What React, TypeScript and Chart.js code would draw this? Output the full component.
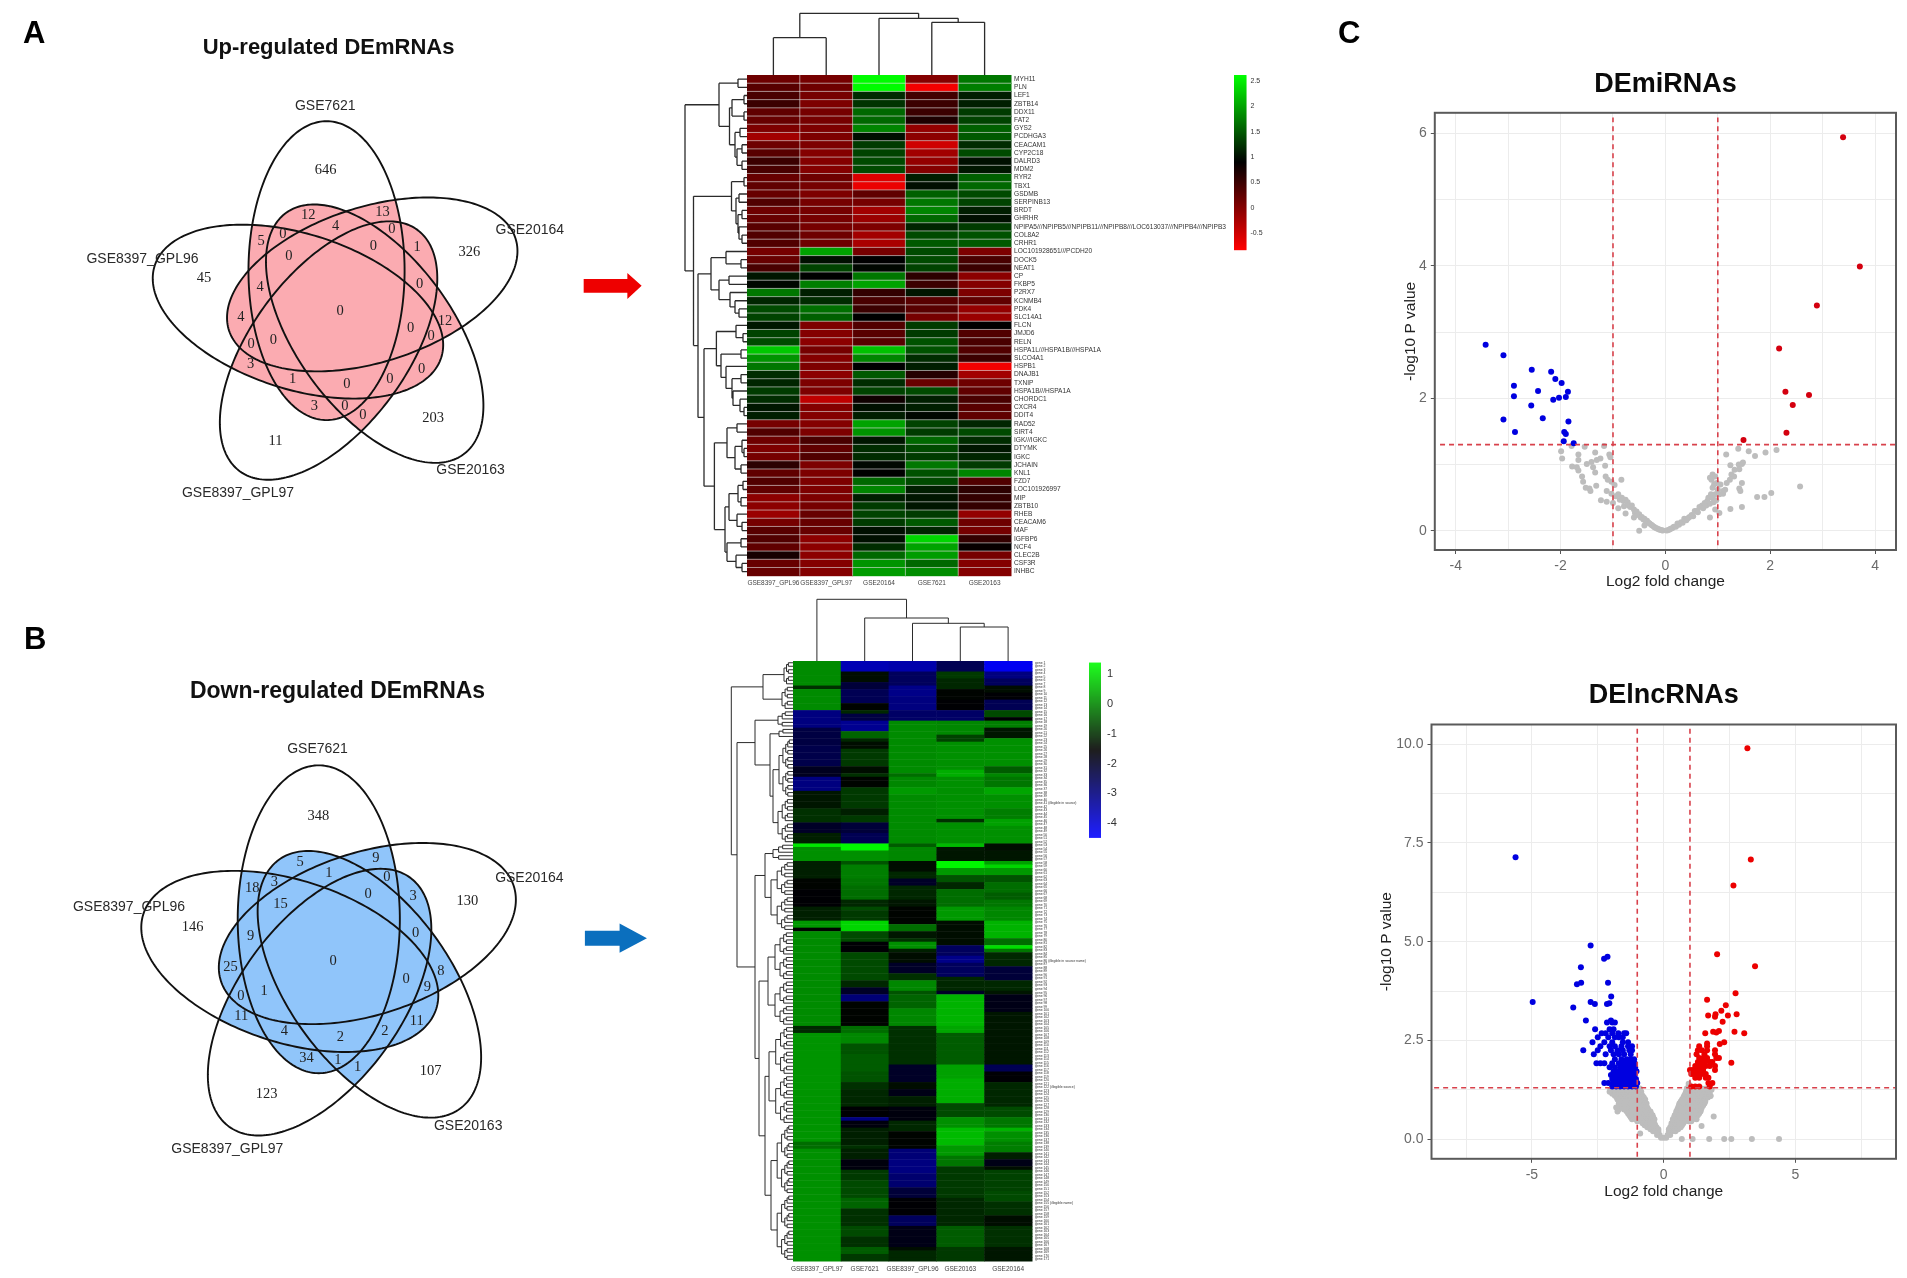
import React, { useEffect, useRef } from "react";
import { Chart, registerables } from "chart.js";

Chart.register(...registerables);
Chart.defaults.font.family = "'Liberation Sans', Arial, sans-serif";
Chart.defaults.animation = false as any;

/* ---------- Venn data (coordinates are on each Venn chart's own hidden axes) ---------- */
const vennSets = ["GSE7621", "GSE20164", "GSE20163", "GSE8397_GPL97", "GSE8397_GPL96"];
const vennAngles = [0, 72, 144, 216, 288];
const upCx = [800, 912, 918, 805, 730];
const upCy = [786, 826, 969, 1018, 905];
const upSetLabelPos = [[797, 308], [1298, 668], [1153, 1366], [583, 1433], [349, 752]];
const upCounts: [number, number, string][] = [
  [798, 495, "646"], [1150, 733, "326"], [500, 808, "45"], [1061, 1213, "203"], [675, 1280, "11"],
  [755, 625, "12"], [937, 615, "13"], [822, 657, "4"], [960, 667, "0"], [693, 680, "0"], [640, 700, "5"],
  [708, 745, "0"], [915, 715, "0"], [1022, 718, "1"], [637, 833, "4"], [1028, 825, "0"], [590, 920, "4"],
  [833, 903, "0"], [1090, 932, "12"], [1006, 953, "0"], [670, 987, "0"], [1056, 977, "0"], [615, 1000, "0"],
  [614, 1058, "3"], [1033, 1072, "0"], [717, 1100, "1"], [850, 1115, "0"], [955, 1100, "0"], [770, 1180, "3"],
  [845, 1180, "0"], [889, 1205, "0"],
];
const downCx = [781, 900, 905, 783, 710];
const downCy = [838, 878, 1020, 1070, 956];
const downSetLabelPos = [[778, 362], [1297, 722], [1147, 1417], [557, 1482], [316, 805]];
const downCounts: [number, number, string][] = [
  [780, 550, "348"], [1145, 787, "130"], [472, 860, "146"], [1055, 1263, "107"], [653, 1328, "123"],
  [735, 678, "5"], [921, 668, "9"], [806, 710, "1"], [948, 720, "0"], [672, 733, "3"], [618, 752, "18"],
  [687, 797, "15"], [902, 767, "0"], [1012, 772, "3"], [614, 884, "9"], [1018, 878, "0"], [565, 972, "25"],
  [816, 955, "0"], [1080, 982, "8"], [995, 1005, "0"], [647, 1040, "1"], [1047, 1028, "9"], [590, 1052, "0"],
  [591, 1110, "11"], [1021, 1123, "11"], [697, 1152, "4"], [834, 1167, "2"], [943, 1152, "2"], [751, 1228, "34"],
  [828, 1232, "1"], [876, 1252, "1"],
];
const upArrow = [[1430, 810], [1537, 810], [1537, 793], [1572, 830], [1537, 868], [1537, 850], [1430, 850]];
const downArrow = [[1433, 870], [1518, 870], [1518, 850], [1585, 891], [1518, 932], [1518, 912], [1433, 912]];

/* ---------- Up-regulated heatmap ---------- */
const upColumns = ["GSE8397_GPL96", "GSE8397_GPL97", "GSE20164", "GSE7621", "GSE20163"];
const upGenes = [
  "MYH11", "PLN", "LEF1", "ZBTB14", "DDX11", "FAT2", "GYS2", "PCDHGA3", "CEACAM1", "CYP2C18", "DALRD3", "MDM2",
  "RYR2", "TBX1", "GSDMB", "SERPINB13", "BRDT", "GHRHR", "NPIPA5///NPIPB5///NPIPB11///NPIPB8///LOC613037///NPIPB4///NPIPB3",
  "COL8A2", "CRHR1", "LOC101928651///PCDH20", "DOCK5", "NEAT1", "CP", "FKBP5", "P2RX7", "KCNMB4", "PDK4", "SLC14A1",
  "FLCN", "JMJD6", "RELN", "HSPA1L///HSPA1B///HSPA1A", "SLCO4A1", "HSPB1", "DNAJB1", "TXNIP", "HSPA1B///HSPA1A",
  "CHORDC1", "CXCR4", "DDIT4", "RAD52", "SIRT4", "IGK///IGKC", "DTYMK", "IGKC", "JCHAIN", "KNL1", "FZD7",
  "LOC101926997", "MIP", "ZBTB10", "RHEB", "CEACAM6", "MAF", "IGFBP6", "NCF4", "CLEC2B", "CSF3R", "INHBC",
];
const upMatrix = [
  [.15,.1,2.6,0,1.7],[.3,.15,2.6,-.75,1.75],[.4,.1,1.2,.45,1.1],[.5,.05,1.25,.5,1.1],[.25,.1,1.6,.5,1.3],
  [.2,.1,1.6,.7,1.35],[.05,.05,1.8,-.1,1.55],[-.2,.05,1,-.05,1.5],[.15,.05,1.3,-.5,1.2],[.3,0,1.35,-.2,1.4],
  [.5,0,1.4,-.1,1],[.4,0,1.4,0,1.05],[.2,.15,-.6,1.1,1.55],[.25,.1,-.7,1,1.6],[.2,.05,.25,1.55,1.4],
  [.35,.1,.1,1.7,1.35],[.15,.1,-.2,1.8,1.1],[.2,.1,-.15,1.6,1],[.3,.1,.05,1.15,1.3],[.35,.15,-.2,1.4,1.45],
  [.35,.15,-.25,1.5,1.5],[.1,2,.1,1.4,.05],[.2,1,.9,1.4,.4],[.4,1.35,.95,1.35,.5],[1.05,.9,1.7,.6,-.05],
  [.95,1.75,2,.5,0],[1.7,1.1,.55,1.05,.05],[1.15,1.2,.4,.3,.25],[1.4,1.65,.5,.3,-.1],[1.35,1.55,.9,.1,-.15],
  [1.05,.05,.35,1.3,.9],[1.35,0,.3,1.3,.35],[1.4,-.05,.3,1.45,.4],[2.25,.1,2.2,1.45,.35],[1.9,0,1.8,1.2,.5],
  [1.7,.05,.9,1.1,-.75],[1.2,-.05,1.5,.65,-.2],[1.15,.05,1.2,.2,.15],[1.3,.05,1.35,1.4,.25],[1.2,-.4,.8,1.1,.4],
  [1.05,0,1,1.1,.3],[1.1,0,1.1,.95,.25],[.1,0,2,1.35,1.15],[.35,.05,1.9,1.3,1.4],[.15,.4,1.05,1.6,1.2],
  [.05,.25,1.2,1.4,1.05],[.1,.35,1.2,1.3,1.15],[.6,.05,.95,1.7,1.3],[.25,.05,.9,1.45,1.8],[.35,.05,1.6,1.4,.35],
  [.25,.05,1.8,1.1,.6],[-.05,.05,1.1,1.05,.55],[-.05,.1,1.3,1.05,.55],[-.15,.2,1.35,1.3,-.1],[.1,.2,1.3,1.5,.15],
  [.3,.2,1,1.15,.1],[.35,-.05,1,2.35,.55],[.25,-.05,1.2,2,.85],[.75,-.05,1.6,1.95,.1],[.2,0,1.9,1.6,0],[.2,0,1.95,1.85,0],
];
const upColTree = [61.7, [37.3, 0, 1], [56.7, 2, [52.7, 3, 4]]];
const upRowTree = [62,
  [28, [9, 0, 1], [17.5, [15, [3, 2, 3], [3, 4, 5]], [12, [7, 6, 7], [10, [5, 8, 9], [5, 10, 11]]]]],
  [53.5,
    [15.5, [3, 12, 13], [11, [8, 14, 15], [9, [5, 16, 17], [8, 18, [5, 19, 20]]]]],
    [49,
      [36, [21, 21, [6, 22, 23]], [28, [18, 24, 25], [17, 26, [12, 27, [8, 28, 29]]]]],
      [43,
        [30.6, [11, 30, [4, 31, 32]], [26, [6, 33, 34], [21, 35, [15, [6, 36, 37], [14, 38, [7, 39, [3, 40, 41]]]]]]],
        [32.6,
          [20, [10, 42, 43], [12, [5, 44, [3, 45, 46]], [6, 47, 48]]],
          [22, [18, [9, [4, 49, 50], [6, 51, 52]], [10, 53, [5, 54, 55]]], [20, [6, 56, 57], [11, 58, [5, 59, 60]]]],
        ],
      ],
    ],
  ],
];
const upBarTicks = [-0.5, 0, 0.5, 1, 1.5, 2, 2.5];
const upScaleRange = [-0.835, 2.62];
const upBlack = 0.9;

/* ---------- Down-regulated heatmap: each column is a list of [last row + 1, value] bands ---------- */
const downColumns = ["GSE8397_GPL97", "GSE7621", "GSE8397_GPL96", "GSE20163", "GSE20164"];
const downRowCount = 171;
const downLongLabels: Record<number, string> = {
  40: " (illegible in source)", 85: " (illegible in source name)", 121: " (illegible source)", 154: " (illegible name)",
};
// The reference's 171 row labels are too small to read; these are neutral placeholders.
const downGenes = Array.from({ length: downRowCount }, (_, i) => `gene ${i + 1}${downLongLabels[i] ?? ""}`);
const downBands1 = [[7,.05],[8,-1],[14,.05],[19,-3],[24,-2.3],[30,-2.4],[33,-1.9],[37,-3],[42,-1.3],[46,-1],[49,-2],[52,-1.2],[53,1.1],[57,.1],[62,-1.2],[65,-1.5],[70,-1.6],[74,-1.2],[76,.2],[77,-1.5],[104,.05],[106,-1.1],[137,.15],[139,-.3],[171,.1]];
const downBands2 = [[3,-3.6],[6,-1.4],[8,-2.2],[12,-2.5],[14,-1.5],[15,-1.1],[17,-2.3],[20,-3.2],[22,-.4],[23,-1.1],[25,-1.4],[30,-.9],[32,-1.4],[33,-1],[36,-1.5],[42,-.9],[44,-1.2],[46,-.9],[49,-2.2],[52,-2.5],[54,1.3],[57,.1],[58,-.6],[62,-.1],[64,-.2],[68,-.3],[70,-1.1],[71,-.7],[74,-.9],[77,.9],[80,-.7],[83,-1.6],[91,-.7],[93,-1.1],[95,-2],[97,-2.9],[104,-1.5],[106,-.3],[109,0],[112,-.6],[117,-.5],[120,-.6],[122,-1],[127,-1.1],[130,-1.6],[131,-3],[133,-1.7],[138,-1.2],[139,-1],[142,-1.2],[145,-1.7],[148,-.9],[153,-.7],[156,-.4],[161,-1],[164,-.7],[167,-1],[169,-.5],[171,-.9]];
const downBands3 = [[3,-3.5],[7,-2.6],[10,-3.1],[14,-3],[17,-2.7],[32,.05],[33,-.3],[36,0],[38,.2],[52,.05],[53,-.5],[57,0],[60,-1.4],[62,-1.1],[64,-2],[68,-1.1],[70,-1.3],[75,-1.5],[77,-.3],[79,-1.3],[80,-1],[82,.1],[83,-1.2],[86,-1.4],[89,-2],[91,-1],[94,0],[95,-.6],[99,-.4],[104,0],[115,-1],[120,-2],[122,-1.4],[124,-1.8],[127,-1.2],[131,-1.7],[134,-1.1],[139,-1.5],[142,-2.9],[146,-3],[150,-2.8],[153,-2.2],[158,-1.6],[161,-2.6],[167,-1.8],[168,-1.4],[171,-1.1]];
const downBands4 = [[3,-2.5],[5,-.9],[8,-1.1],[11,-1.5],[14,-1.6],[17,-2.7],[21,0],[23,-.8],[31,.1],[33,.45],[45,.1],[46,-1],[52,.1],[53,.6],[57,-1.3],[59,1.3],[61,.2],[63,-.6],[65,-1.1],[70,-.3],[74,.2],[81,-1.4],[84,-2.6],[86,-3.1],[90,-2.6],[94,-1.1],[95,-2],[104,.5],[106,.35],[115,-.5],[119,.3],[126,.45],[130,-.7],[133,.1],[138,.6],[141,.2],[144,-.2],[153,-.9],[161,-1.1],[167,-.5],[171,-.9]];
const downBands5 = [[3,-4.3],[5,-3],[7,-2.6],[9,-1.4],[11,-1.6],[14,-2.5],[16,-.7],[17,-1.6],[19,-.1],[22,-1.3],[30,.1],[32,-.5],[33,0],[36,-.2],[38,.35],[42,.1],[45,-.1],[47,.3],[52,.1],[54,-1.4],[57,-1.3],[58,.3],[59,.9],[61,.2],[63,-.6],[66,-.3],[68,-.5],[70,-.2],[74,0],[79,.5],[81,-.3],[82,1],[83,-.2],[87,-1.1],[91,-2.2],[94,-1.1],[95,-1.3],[100,-1.8],[115,-1.3],[117,-2.5],[120,-1.6],[127,-1.1],[130,-.7],[133,-.2],[134,.5],[137,.1],[140,-.1],[142,-1.2],[144,-1.8],[145,-1.4],[151,-.8],[154,-.7],[158,-1],[161,-1.4],[167,-1],[171,-1.3]];
const downColTree = [61.7, 0, [43, 1, [37.7, 2, [34, 3, 4]]]];
const rt = (a: number, b: number, h: number): any => {
  if (a === b) return a;
  const m = Math.floor((a + b) / 2);
  return [h, rt(a, m, h * 0.72), rt(m + 1, b, h * 0.72)];
};
const downRowTree = [61.7,
  [30, rt(0, 6, 9), rt(7, 13, 11)],
  [56,
    [38, rt(14, 18, 15), [23, rt(19, 21, 14), [20, rt(22, 38, 14), rt(39, 51, 15)]]],
    [38, [28, rt(52, 56, 20), rt(57, 76, 22)], [34, rt(77, 103, 25), [28, rt(104, 131, 24), rt(132, 170, 22)]]],
  ],
];
const downBarTicks = [-4, -3, -2, -1, 0, 1];
const downScaleRange = [-4.46, 1.375];
const downBlack = -1.55;

/* ---------- Volcano plots ---------- */
const miRed = [[3.39,5.94],[3.71,3.99],[2.89,3.4],[2.17,2.75],[2.29,2.1],[2.74,2.05],[2.43,1.9],[2.31,1.48],[1.49,1.37]];
const miBlue = [[-3.43,2.81],[-3.09,2.65],[-2.55,2.43],[-2.18,2.4],[-2.1,2.29],[-1.98,2.23],[-2.89,2.19],[-2.43,2.11],[-1.86,2.1],[-2.89,2.03],[-1.9,2.02],[-2.03,2.01],[-2.14,1.98],[-2.56,1.89],[-2.34,1.7],[-3.09,1.68],[-1.85,1.65],[-2.87,1.49],[-1.93,1.49],[-1.9,1.46],[-1.94,1.35],[-1.75,1.32]];
const miGrey = [
  [-1.99,1.2],[-1.97,1.09],[-1.79,1.28],[-1.66,1.15],[-1.66,1.07],[-1.54,1.27],[-1.78,.97],[-1.69,.96],[-1.66,.91],[-1.59,.82],[-1.57,.74],[-1.5,1.01],[-1.41,1.04],[-1.38,.96],[-1.34,1.18],[-1.31,1.07],[-1.24,1.09],[-1.15,.98],[-1.07,1.15],[-1.05,1.11],[-1.17,1.28],[-1.34,.88],[-1.1,.77],[-1.14,.82],[-1.03,.74],[-.84,.77],[-.97,.69],[-1.32,.68],[-1.45,.64],[-1.52,.65],[-1.43,.6],[-1.12,.6],[-1.03,.56],[-1.23,.46],[-1.12,.44],[-1,.42],[-.9,.34],[-.79,.37],[-.76,.26],
  [-.95,.52],[-.9,.55],[-.87,.47],[-.83,.5],[-.8,.45],[-.76,.47],[-.72,.43],[-.7,.38],[-.67,.36],[-.64,.38],[-.6,.32],[-.58,.27],[-.55,.29],[-.52,.24],[-.5,.25],[-.47,.2],[-.45,.21],[-.42,.17],[-.4,.18],[-.37,.14],[-.35,.15],[-.32,.12],[-.3,.11],[-.27,.09],[-.25,.08],[-.22,.06],[-.2,.05],[-.17,.04],[-.15,.03],[-.12,.02],[-.1,.015],[-.07,.01],[-.05,.005],[-.5,0],[-.4,.08],[-.6,.2],
  [.02,.005],[.05,.01],[.08,.02],[.1,.03],[.13,.04],[.16,.06],[.2,.06],[.23,.11],[.26,.09],[.3,.13],[.33,.12],[.36,.18],[.4,.16],[.43,.19],[.46,.21],[.5,.24],[.53,.22],[.56,.3],[.6,.3],[.62,.28],[.65,.36],[.7,.38],[.72,.34],[.75,.42],[.78,.38],[.8,.45],[.82,.5],[.85,.41],[.87,.55],[.9,.5],[.92,.43],[.95,.55],[.97,.46],[1,.62],[1.03,.55],[.9,.65],[.93,.7],[.88,.77],[.85,.8],[.9,.85],[.95,.82],[.98,.72],[1.05,.7],[1.1,.6],[.85,.2],[.95,.32],[1.03,.27],
  [1.16,1.15],[1.39,1.24],[1.59,1.2],[1.71,1.13],[1.91,1.18],[2.12,1.22],[1.24,.99],[1.32,.92],[1.4,1],[1.46,1.01],[1.48,1.03],[1.41,.93],[1.26,.85],[1.31,.82],[1.23,.77],[1.17,.72],[1.46,.72],[1.41,.64],[1.43,.6],[1.14,.62],[1.1,.56],[1.24,.33],[1.46,.36],[1.75,.51],[1.89,.51],[2.02,.57],[2.57,.67],
];
const lncRedSparse = [[3.18,9.9],[3.31,7.08],[2.65,6.42],[2.03,4.68],[3.47,4.38],[2.73,3.69],[1.65,3.53],[2.36,3.39],[2.19,3.25],[2.77,3.16],[2.44,3.13],[1.69,3.13],[1.95,3.1],[1.97,3.16],[2.24,2.97],[1.58,2.68],[1.88,2.72],[2.1,2.74],[2.69,2.72],[3.06,2.68],[2,2.7],[1.65,2.42],[2.3,2.45],[2.13,2.41],[2.57,1.93]];
const lncRedRows: [number, number[]][] = [
  [1.33,[1.05,1.2,1.35,1.75]],[1.42,[1.7,1.85]],[1.55,[1.2,1.35,1.6,1.7]],[1.65,[1.05,1.15,1.3,1.45,1.6]],
  [1.75,[1,1.1,1.25,1.4,1.5,1.95]],[1.85,[1.2,1.35,1.45,1.6,1.75,1.95]],[1.95,[1.3,1.45,1.55,1.75,1.85]],
  [2.05,[1.35,1.5,1.65,2,2.1]],[2.15,[1.25,1.55,1.95]],[2.25,[1.3,1.45,1.65,1.95]],[2.35,[1.35,1.65]],
];
const lncBlueSparse = [[-5.62,7.14],[-4.97,3.47],[-2.77,4.9],[-2.26,4.57],[-2.13,4.62],[-3.14,4.35],[-3.29,3.92],[-3.13,3.96],[-2.11,3.96],[-1.99,3.61],[-2.77,3.47],[-2.61,3.42],[-2.15,3.42],[-2.06,3.44],[-3.43,3.33]];
const lncBlueRows: [number, number[]][] = [
  [1.33,[-1.95,-1.8,-1.65,-1.5,-1.35,-1.2,-1.05]],[1.42,[-2.25,-2.1,-1.9,-1.75,-1.6,-1.45,-1.3,-1.15,-1]],
  [1.52,[-1.95,-1.8,-1.62,-1.48,-1.33,-1.2,-1.05]],[1.62,[-2,-1.85,-1.7,-1.55,-1.4,-1.25,-1.1]],
  [1.72,[-1.9,-1.75,-1.6,-1.45,-1.3,-1.15,-1.03]],[1.82,[-2.05,-1.85,-1.65,-1.5,-1.35,-1.2,-1.08]],
  [1.92,[-2.55,-2.4,-2.25,-1.95,-1.7,-1.55,-1.4,-1.25,-1.1]],[2.02,[-1.85,-1.6,-1.4,-1.25,-1.12]],
  [2.15,[-2.65,-2.2,-1.9,-1.7,-1.5,-1.25]],[2.25,[-3.05,-2.5,-2,-1.75,-1.55,-1.3,-1.2]],
  [2.35,[-2.4,-2.05,-1.85,-1.6,-1.35,-1.2]],[2.45,[-2.7,-2.25,-1.95,-1.55,-1.35]],
  [2.58,[-2.5,-2.1,-1.85,-1.7,-1.55]],[2.68,[-2.35,-2.2,-1.95,-1.72,-1.5,-1.42]],[2.78,[-2.6,-2.05,-1.9]],
  [2.95,[-2.15,-1.95,-1.85]],[3,[-2.95,-2]],
];
const lncGreySparse = [[.69,0],[1.1,0],[1.73,0],[2.3,0],[2.57,0],[3.35,0],[4.38,0],[1.44,.33],[1.9,.57],[1.78,1.09],[-.89,.14],[.95,1.4],[.95,1.33]];
const lncGreyRows: [number, number[]][] = [
  [.03,[-.1,0,.1]],[.1,[-.25,-.15,.15,.25]],[.2,[-.4,-.3,-.2,.2,.32,.45]],[.25,[-.5,-.4,-.3,-.2,.2,.3,.42,.55]],[.3,[-.62,-.5,-.38,-.27,.25,.38,.5,.65]],
  [.35,[-.72,-.58,-.44,-.32,.3,.42,.55,.7]],[.4,[-.8,-.65,-.5,-.35,.3,.45,.6,.75]],[.45,[-1,-.85,-.72,-.58,-.44,.36,.5,.65,.8,.95,1.05]],
  [.5,[-1.2,-1.05,-.9,-.75,-.6,-.45,-.35,.35,.5,.65,.8,.95,1.1,1.25]],[.55,[-1.25,-1.1,-.95,-.8,-.65,-.5,-.4,.4,.58,.72,.88,1.02,1.18]],
  [.6,[-1.3,-1.15,-1,-.85,-.7,-.55,-.42,.42,.55,.7,.85,1,1.15,1.3]],[.65,[-1.35,-1.2,-1.05,-.9,-.75,-.6,-.48,.48,.6,.75,.9,1.05,1.2,1.35]],
  [.7,[-1.75,-1.4,-1.25,-1.1,-.95,-.8,-.65,-.5,.48,.62,.78,.92,1.08,1.25,1.4]],[.75,[-1.7,-1.5,-1.32,-1.18,-1.02,-.88,-.72,-.58,.52,.68,.82,.98,1.12,1.28,1.42]],
  [.8,[-1.8,-1.55,-1.4,-1.25,-1.1,-.95,-.8,-.62,.55,.7,.85,1,1.15,1.3,1.45]],[.85,[-1.62,-1.48,-1.32,-1.18,-1.02,-.88,-.72,.58,.75,.9,1.05,1.22,1.38,1.5]],
  [.9,[-1.7,-1.55,-1.4,-1.25,-1.1,-.95,-.78,-.65,.6,.78,.92,1.08,1.25,1.4,1.55]],[.95,[-1.68,-1.52,-1.38,-1.22,-1.08,-.92,-.75,.65,.82,.98,1.12,1.28,1.45,1.58]],
  [1,[-1.75,-1.6,-1.45,-1.3,-1.15,-1,-.85,-.7,.7,.85,1,1.15,1.3,1.45,1.55]],[1.05,[-1.78,-1.62,-1.48,-1.32,-1.18,-1.02,-.88,-.75,.75,.9,1.05,1.22,1.38,1.52,1.68]],
  [1.1,[-1.85,-1.7,-1.55,-1.4,-1.25,-1.1,-.95,-.8,.78,.92,1.08,1.25,1.4,1.55,1.78]],[1.15,[-1.95,-1.78,-1.62,-1.48,-1.32,-1.18,-1.02,-.88,.82,.98,1.12,1.28,1.45,1.6,1.72]],
  [1.2,[-2.05,-1.85,-1.7,-1.55,-1.4,-1.25,-1.1,-.95,-.85,.85,1,1.15,1.3,1.45,1.6,1.75]],[1.25,[-2.02,-1.82,-1.68,-1.52,-1.38,-1.22,-1.08,-.92,.88,1.02,1.18,1.35,1.5,1.65,1.82]],
  [1.28,[-1.9,-1.75,-1.6,-1.45,-1.3,-1.15,-1,-.9,.88,1,1.15,1.3,1.45,1.6,1.75]],
];

/* ---------- helpers ---------- */
const pts = (a: number[][]) => a.map(([x, y]) => ({ x, y }));
const rows = (a: [number, number[]][]) => a.flatMap(([y, xs]) => xs.map((x) => ({ x, y })));
const expand = (bands: number[][]) => {
  const out: number[] = [];
  bands.forEach(([end, v]) => { while (out.length < end) out.push(v); });
  return out;
};

const colorFor = (v: number, range: number[], black: number, low: number[], high: number[]) => {
  const t = v >= black ? Math.min(1, (v - black) / (range[1] - black)) : Math.min(1, (black - v) / (black - range[0]));
  const c = v >= black ? high : low;
  return `rgb(${Math.round(c[0] * t)},${Math.round(c[1] * t)},${Math.round(c[2] * t)})`;
};
const RED = [255, 0, 0];
const GREEN = [0, 255, 0];
const BLUE = [0, 0, 255];
const upColor = (v: number) => colorFor(v, upScaleRange, upBlack, RED, GREEN);
const downColor = (v: number) => colorFor(v, downScaleRange, downBlack, BLUE, GREEN);

/* ---------- plugins ---------- */
const vennPlugin = (o: any) => ({
  id: "venn",
  beforeDatasetsDraw(chart: any) {
    const { ctx, scales } = chart;
    const { x, y } = scales;
    const paths = o.cx.map((cx: number, i: number) => {
      const p = new Path2D();
      const th = (vennAngles[i] * Math.PI) / 180;
      for (let k = 0; k <= 240; k++) {
        const t = (k / 240) * 2 * Math.PI;
        const dx = o.major * Math.cos(t) * Math.sin(th) + o.minor * Math.sin(t) * Math.cos(th);
        const dy = -o.major * Math.cos(t) * Math.cos(th) + o.minor * Math.sin(t) * Math.sin(th);
        const px = x.getPixelForValue(cx + dx * o.squeeze);
        const py = y.getPixelForValue(o.cy[i] + dy);
        if (k === 0) p.moveTo(px, py); else p.lineTo(px, py);
      }
      p.closePath();
      return p;
    });
    ctx.save();
    ctx.fillStyle = o.fill;
    for (let i = 0; i < paths.length; i++) {
      for (let j = i + 1; j < paths.length; j++) {
        ctx.save();
        ctx.clip(paths[i]);
        ctx.fill(paths[j]);
        ctx.restore();
      }
    }
    ctx.strokeStyle = "#111";
    ctx.lineWidth = 1.9;
    paths.forEach((p: Path2D) => ctx.stroke(p));
    ctx.fillStyle = o.arrowColor;
    ctx.beginPath();
    o.arrow.forEach(([ax, ay]: number[], i: number) => {
      const px = x.getPixelForValue(ax), py = y.getPixelForValue(ay);
      if (i === 0) ctx.moveTo(px, py); else ctx.lineTo(px, py);
    });
    ctx.closePath();
    ctx.fill();
    ctx.textAlign = "center";
    ctx.textBaseline = "middle";
    ctx.fillStyle = "#222";
    ctx.font = "14.5px 'Liberation Serif', serif";
    o.counts.forEach(([a, b, t]: any) => ctx.fillText(t, x.getPixelForValue(a), y.getPixelForValue(b)));
    ctx.font = "14px 'Liberation Sans', sans-serif";
    ctx.fillStyle = "#2a2a2a";
    o.labelPos.forEach(([a, b]: number[], i: number) => ctx.fillText(vennSets[i], x.getPixelForValue(a), y.getPixelForValue(b)));
    ctx.fillStyle = "#111";
    ctx.font = `bold ${o.titleSize}px 'Liberation Sans', sans-serif`;
    ctx.fillText(o.title, x.getPixelForValue(o.titlePos[0]), y.getPixelForValue(o.titlePos[1]));
    ctx.restore();
  },
});

const drawTree = (ctx: any, node: any, pos: (i: number) => number, seg: (h0: number, p0: number, h1: number, p1: number) => void): [number, number] => {
  if (typeof node === "number") return [pos(node), 0];
  const [h, a, b] = node;
  const [p1, h1] = drawTree(ctx, a, pos, seg);
  const [p2, h2] = drawTree(ctx, b, pos, seg);
  seg(h1, p1, h, p1);
  seg(h2, p2, h, p2);
  seg(h, p1, h, p2);
  return [(p1 + p2) / 2, h];
};

const heatPlugin = (o: any) => ({
  id: "heat",
  beforeDatasetsDraw(chart: any) {
    const { ctx, scales } = chart;
    const { x, y, hx, hy } = scales;
    const values = chart.data.datasets[0].data;
    ctx.save();
    values.forEach((d: any) => {
      const i = o.columns.indexOf(d.x);
      const j = o.rowIndex.get(d.y);
      const x0 = x.getPixelForValue(i - 0.5), x1 = x.getPixelForValue(i + 0.5);
      const y0 = y.getPixelForValue(j - 0.5), y1 = y.getPixelForValue(j + 0.5);
      ctx.fillStyle = o.color(d.v);
      ctx.fillRect(x0, y0, x1 - x0 + 0.5, y1 - y0 + 0.5);
    });
    if (o.gridColor) {
      ctx.strokeStyle = o.gridColor;
      ctx.lineWidth = 1;
      ctx.beginPath();
      o.columns.forEach((_: any, i: number) => {
        if (i === 0) return;
        const px = x.getPixelForValue(i - 0.5);
        ctx.moveTo(px, y.top); ctx.lineTo(px, y.bottom);
      });
      o.rowIndex.forEach((j: number) => {
        if (j === 0) return;
        const py = y.getPixelForValue(j - 0.5);
        ctx.moveTo(x.left, py); ctx.lineTo(x.right, py);
      });
      ctx.stroke();
    }
    ctx.strokeStyle = "#2b2b2b";
    ctx.lineWidth = o.treeWidth;
    ctx.beginPath();
    const rowSeg = (h0: number, p0: number, h1: number, p1: number) => {
      ctx.moveTo(hx.getPixelForValue(-h0), p0);
      ctx.lineTo(hx.getPixelForValue(-h1), p1);
    };
    drawTree(ctx, o.rowTree, (j) => y.getPixelForValue(j), rowSeg);
    const colSeg = (h0: number, p0: number, h1: number, p1: number) => {
      ctx.moveTo(p0, hy.getPixelForValue(hy.max + h0));
      ctx.lineTo(p1, hy.getPixelForValue(hy.max + h1));
    };
    drawTree(ctx, o.colTree, (i) => x.getPixelForValue(i), colSeg);
    ctx.stroke();
    ctx.restore();
  },
});

const colorbarPlugin = (color: (v: number) => string) => ({
  id: "colorbar",
  beforeDatasetsDraw(chart: any) {
    const { ctx, scales, chartArea } = chart;
    ctx.save();
    for (let py = chartArea.top; py < chartArea.bottom; py++) {
      ctx.fillStyle = color(scales.y.getValueForPixel(py + 0.5));
      ctx.fillRect(chartArea.left, py, chartArea.right - chartArea.left, 1.2);
    }
    ctx.restore();
  },
});

const boxPlugin = {
  id: "box",
  afterDraw(chart: any) {
    const { ctx, chartArea: a } = chart;
    ctx.save();
    ctx.strokeStyle = "#5a5a5a";
    ctx.lineWidth = 2;
    ctx.strokeRect(a.left, a.top, a.right - a.left, a.bottom - a.top);
    ctx.restore();
  },
};

/* ---------- chart configs ---------- */
const baseOptions = (extra: any) => ({
  responsive: false,
  animation: false,
  devicePixelRatio: 1,
  events: [],
  plugins: { legend: { display: false }, tooltip: { enabled: false }, title: { display: false } },
  ...extra,
});

const vennConfig = (o: any, w: number, h: number, yf: number) => ({
  type: "scatter",
  data: { datasets: [{ data: o.counts.map(([x, y]: number[]) => ({ x, y })), pointRadius: 0 }] },
  options: baseOptions({
    layout: { padding: 0 },
    scales: {
      x: { type: "linear", display: false, min: 0, max: w * 2.45 },
      y: { type: "linear", display: false, min: 0, max: h * yf, reverse: true },
    },
  }),
  plugins: [vennPlugin(o)],
});

const heatConfig = (o: any) => {
  const rowIndex = new Map<string, number>(o.rows.map((g: string, i: number) => [g, i]));
  const data = o.rows.flatMap((g: string, j: number) => o.columns.map((c: string, i: number) => ({ x: c, y: g, v: o.matrix[j][i] })));
  return {
    type: "scatter",
    data: { datasets: [{ data, pointRadius: 0 }] },
    options: baseOptions({
      layout: { padding: { left: o.padLeft, top: o.padTop, right: 0, bottom: 0 } },
      scales: {
        x: {
          type: "category", labels: o.columns, offset: true, position: "bottom",
          grid: { display: false, drawTicks: false }, border: { display: false },
          ticks: { autoSkip: false, maxRotation: 0, minRotation: 0, padding: o.xPad, color: "#444", font: { size: o.xFont } },
          afterFit: (s: any) => { s.height = o.xHeight; },
        },
        y: {
          type: "category", labels: o.rows, offset: true, position: "right",
          grid: { display: false, drawTicks: false }, border: { display: false },
          ticks: { autoSkip: false, padding: 3, color: "#333", font: { size: o.yFont } },
          afterFit: (s: any) => { s.width = o.yWidth; },
        },
        hx: { type: "linear", axis: "x", display: false, min: 0, max: o.plotW },
        hy: { type: "linear", axis: "y", display: false, min: 0, max: o.plotH },
      },
    }),
    plugins: [heatPlugin({ ...o, rowIndex, rowTree: o.rowTree, colTree: o.colTree })],
  };
};

const barConfig = (o: any) => ({
  type: "scatter",
  data: { datasets: [{ data: o.ticks.map((v: number) => ({ x: 0, y: v })), pointRadius: 0 }] },
  options: baseOptions({
    layout: { padding: { left: o.padLeft, top: o.padTop, right: 0, bottom: o.padBottom } },
    scales: {
      x: { type: "linear", display: false, min: 0, max: 1 },
      y: {
        type: "linear", position: "right", min: o.range[0], max: o.range[1],
        grid: { display: false, drawTicks: false }, border: { display: false },
        afterBuildTicks: (s: any) => { s.ticks = o.ticks.map((value: number) => ({ value })); },
        ticks: { padding: o.tickPad, color: "#333", font: { size: o.font }, callback: (v: number) => String(v) },
        afterFit: (s: any) => { s.width = o.yWidth; },
      },
    },
  }),
  plugins: [colorbarPlugin(o.color)],
});

const volcanoConfig = (o: any) => {
  const dash = { showLine: true, borderColor: "#D8414B", borderWidth: 1.6, borderDash: [5, 4], pointRadius: 0, fill: false };
  const dot = (data: any[], c: string) => ({ data, backgroundColor: c, borderWidth: 0, pointBorderWidth: 0, pointRadius: 3 });
  const tickAxis = (sc: any) => ({
    type: "linear", min: sc.min, max: sc.max,
    grid: {
      color: "#ECECEC", lineWidth: 1, tickLength: 4,
      tickColor: (c: any) => (sc.show(c.tick.value) ? "#555" : "transparent"),
    },
    border: { display: false },
    title: { display: true, text: sc.title, color: "#222", font: { size: 15.5 }, padding: sc.titlePad },
    ticks: {
      stepSize: sc.step, includeBounds: false, padding: 4, color: "#6a6a6a", font: { size: 14 }, maxRotation: 0, autoSkip: false,
      callback: (v: number) => (sc.show(v) ? sc.fmt(v) : ""),
    },
  });
  return {
    type: "scatter",
    data: {
      datasets: [
        { ...dash, data: [{ x: o.x.min + 0.1, y: 1.3 }, { x: o.x.max, y: 1.3 }] },
        { ...dash, data: [{ x: -1, y: o.vLine[0] }, { x: -1, y: o.vLine[1] }] },
        { ...dash, data: [{ x: 1, y: o.vLine[0] }, { x: 1, y: o.vLine[1] }] },
        dot(o.red, o.redColor),
        dot(o.blue, "#0000E0"),
        dot(o.grey, "#BDBDBD"),
      ],
    },
    options: baseOptions({
      layout: { padding: { left: 0, top: 0, right: o.padRight, bottom: 0 } },
      plugins: {
        legend: { display: false }, tooltip: { enabled: false },
        title: {
          display: true, text: o.title, color: "#0b0b0b", fullSize: false,
          font: { size: 27, weight: "bold" }, padding: o.titlePad,
        },
      },
      scales: {
        x: { ...tickAxis(o.x), afterFit: (s: any) => { s.height = o.xHeight; } },
        y: { ...tickAxis(o.y), afterFit: (s: any) => { s.width = o.yWidth; } },
      },
    }),
    plugins: [boxPlugin],
  };
};

const downMatrix = (() => {
  const cols = [downBands1, downBands2, downBands3, downBands4, downBands5].map(expand);
  return downGenes.map((_, j) => cols.map((c) => c[j]));
})();

const panels: { left: number; top: number; w: number; h: number; config: any }[] = [
  {
    left: 0, top: 0, w: 660, h: 560,
    config: vennConfig({
      cx: upCx, cy: upCy, major: 434, minor: 225, squeeze: 0.85, fill: "#FBABB1", counts: upCounts, labelPos: upSetLabelPos,
      title: "Up-regulated DEmRNAs", titleSize: 22, titlePos: [805, 140], arrow: upArrow, arrowColor: "#EE0000",
    }, 660, 560, 2.904),
  },
  {
    left: 0, top: 620, w: 660, h: 560,
    config: vennConfig({
      cx: downCx, cy: downCy, major: 431, minor: 227, squeeze: 0.875, fill: "#90C5FA", counts: downCounts, labelPos: downSetLabelPos,
      title: "Down-regulated DEmRNAs", titleSize: 23, titlePos: [827, 202], arrow: downArrow, arrowColor: "#0B6FBE",
    }, 660, 560, 2.8),
  },
  {
    left: 660, top: 0, w: 572, h: 600,
    config: heatConfig({
      columns: upColumns, rows: upGenes, matrix: upMatrix, color: upColor, gridColor: "rgba(225,225,225,0.62)",
      rowTree: upRowTree, colTree: upColTree, padLeft: 87, padTop: 75, xHeight: 24.3, yWidth: 221, plotW: 264, plotH: 501,
      xFont: 6.5, yFont: 6.6, xPad: 4, treeWidth: 1.3,
    }),
  },
  {
    left: 725, top: 590, w: 361, h: 688,
    config: heatConfig({
      columns: downColumns, rows: downGenes, matrix: downMatrix, color: downColor,
      rowTree: downRowTree, colTree: downColTree, padLeft: 68, padTop: 71, xHeight: 17, yWidth: 54, plotW: 239, plotH: 600,
      xFont: 6.5, yFont: 3.4, xPad: 4, treeWidth: 1,
    }),
  },
  {
    left: 1230, top: 65, w: 60, h: 200,
    config: barConfig({ ticks: upBarTicks, range: upScaleRange, color: upColor, padLeft: 4, padTop: 10, padBottom: 15, yWidth: 43.5, tickPad: 4, font: 7 }),
  },
  {
    left: 1085, top: 650, w: 50, h: 200,
    config: barConfig({ ticks: downBarTicks, range: downScaleRange, color: downColor, padLeft: 4, padTop: 11, padBottom: 13, yWidth: 34, tickPad: 6, font: 11 }),
  },
  {
    left: 1340, top: 51, w: 567, h: 560,
    config: volcanoConfig({
      title: "DEmiRNAs", titlePad: { top: 17.3, bottom: 12.1 }, red: pts(miRed), blue: pts(miBlue), grey: pts(miGrey), redColor: "#D4000F",
      vLine: [-0.22, 6.24], padRight: 11, xHeight: 61, yWidth: 94.8,
      x: { min: -4.4, max: 4.4, step: 1, title: "Log2 fold change", titlePad: 20, show: (v: number) => v % 2 === 0, fmt: (v: number) => `${v}` },
      y: { min: -0.29, max: 6.31, step: 1, title: "-log10 P value", titlePad: 61, show: (v: number) => v % 2 === 0, fmt: (v: number) => `${v}` },
    }),
  },
  {
    left: 1340, top: 671.5, w: 567, h: 560,
    config: volcanoConfig({
      title: "DElncRNAs", titlePad: { top: 7.8, bottom: 12.3 },
      red: [...pts(lncRedSparse), ...rows(lncRedRows)], blue: [...pts(lncBlueSparse), ...rows(lncBlueRows)],
      grey: [...pts(lncGreySparse), ...rows(lncGreyRows)], redColor: "#EC0000",
      vLine: [-0.45, 10.4], padRight: 11, xHeight: 73.2, yWidth: 91.5,
      x: { min: -8.81, max: 8.82, step: 2.5, title: "Log2 fold change", titlePad: 31.4, show: (v: number) => v % 5 === 0, fmt: (v: number) => `${v}` },
      y: { min: -0.5, max: 10.5, step: 1.25, title: "-log10 P value", titlePad: 37, show: (v: number) => v % 2.5 === 0, fmt: (v: number) => v.toFixed(1) },
    }),
  },
];

const letters: [string, number, number][] = [["A", 23, 14], ["B", 24, 620], ["C", 1338, 14]];

export default function App() {
  const refs = useRef<(HTMLCanvasElement | null)[]>([]);
  useEffect(() => {
    const charts = panels.map((p, i) => new Chart(refs.current[i] as HTMLCanvasElement, p.config));
    return () => charts.forEach((c) => c.destroy());
  }, []);
  return (
    <div style={{ position: "absolute", left: 0, top: 0, width: 1907, height: 1278, background: "#fff", overflow: "hidden", filter: "blur(0.45px)" }}>
      {panels.map((p, i) => (
        <canvas
          key={i}
          ref={(el) => { refs.current[i] = el; }}
          width={p.w}
          height={p.h}
          style={{ position: "absolute", left: p.left, top: p.top, width: p.w, height: p.h }}
        />
      ))}
      {letters.map(([t, l, top]) => (
        <div key={t} style={{ position: "absolute", left: l, top, font: "bold 31px 'Liberation Sans', sans-serif", color: "#000", lineHeight: "38px" }}>{t}</div>
      ))}
    </div>
  );
}
